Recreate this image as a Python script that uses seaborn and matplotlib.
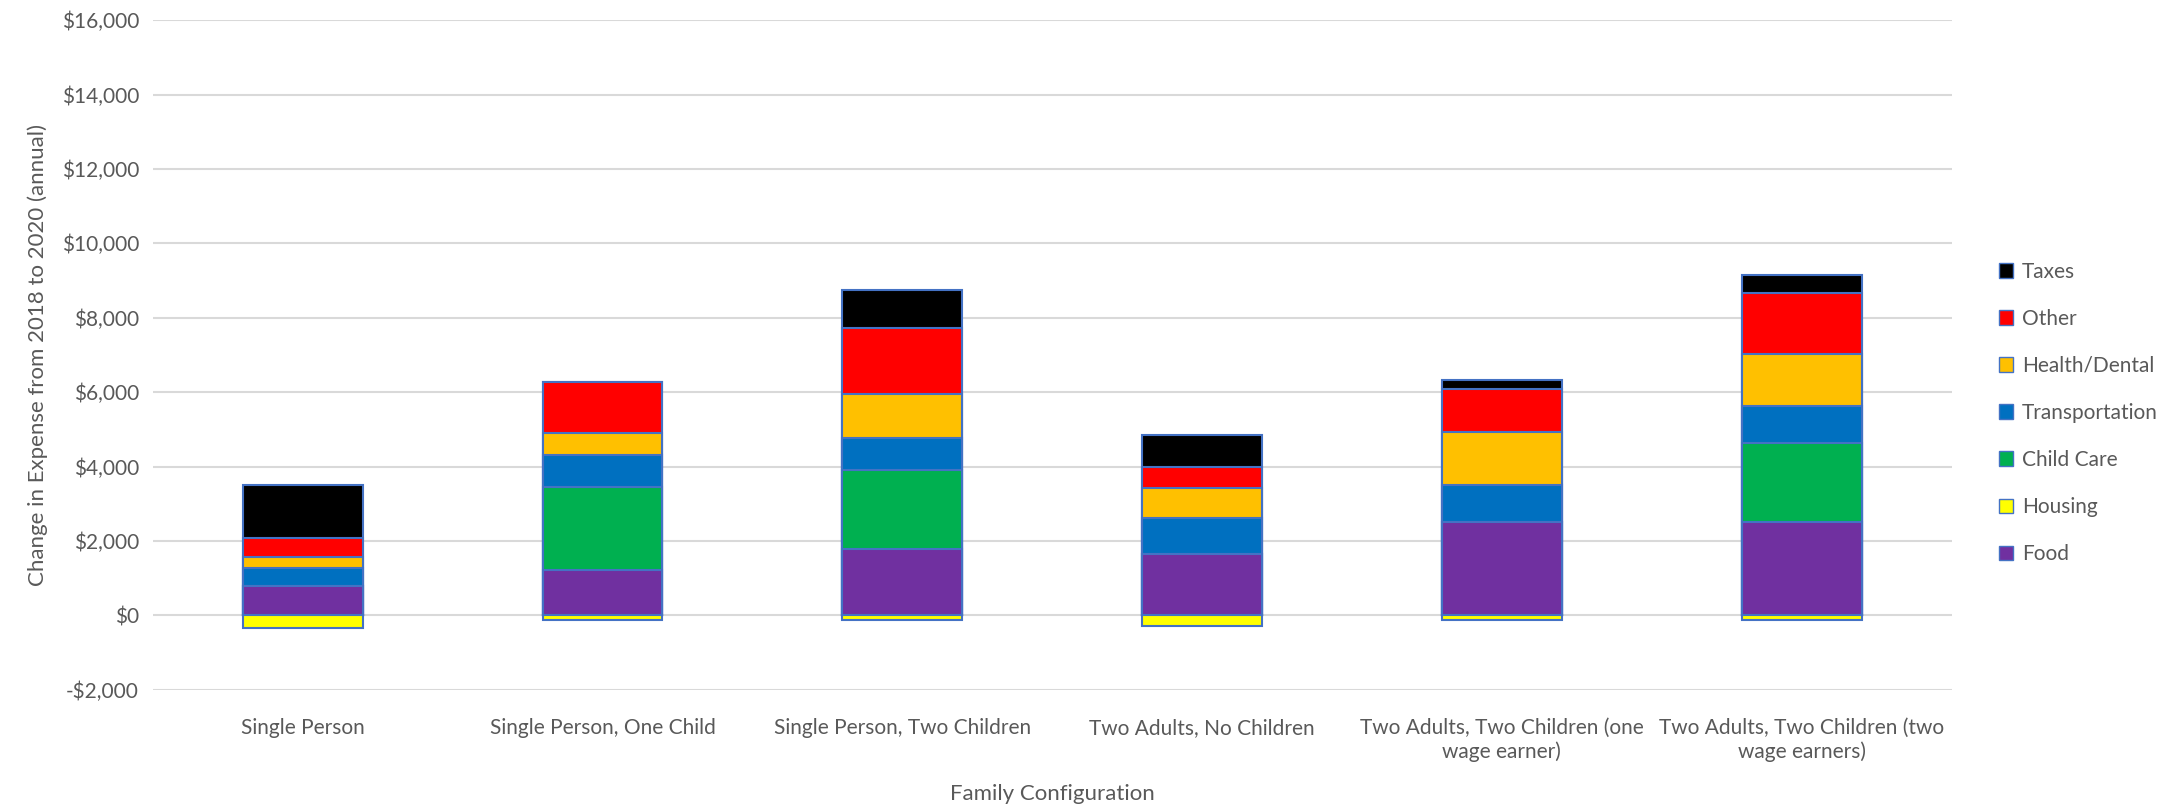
import numpy as np
import pandas as pd
import seaborn as sns
import matplotlib.pyplot as plt
from matplotlib.patches import Patch
from matplotlib.ticker import FuncFormatter

# Data (annual change, $)
families = ['Single Person', 'Single Person, One Child', 'Single Person, Two Children',
            'Two Adults, No Children', 'Two Adults, Two Children (one\nwage earner)',
            'Two Adults, Two Children (two\nwage earners)']
food = [790, 1210, 1780, 1650, 2520, 2500]
housing = [-330, -130, -130, -290, -130, -130]
child_care = [0, 2230, 2140, 0, 0, 2140]
transportation = [490, 860, 860, 960, 980, 1000]
health_dental = [290, 610, 1170, 820, 1420, 1390]
other = [510, 1370, 1780, 560, 1160, 1640]
taxes = [1430, 0, 1010, 860, 240, 490]

# stacking order bottom -> top (housing is negative, drawn below zero)
stack = [('Food', food, '#7030A0'),
         ('Child Care', child_care, '#00B050'),
         ('Transportation', transportation, '#0070C0'),
         ('Health/Dental', health_dental, '#FFC000'),
         ('Other', other, '#FF0000'),
         ('Taxes', taxes, '#000000')]
housing_color = '#FFFF00'
edge = '#4472C4'

sns.set_style('white')
plt.rcParams['font.family'] = ['Lato', 'DejaVu Sans']

fig = plt.figure(figsize=(21.83, 8.05), dpi=100)
ax = fig.add_axes([0.070, 0.143, 0.824, 0.832])

# cumulative tops, draw tallest first so lower segments overlay it
tops = np.cumsum([np.array(v) for _, v, _ in stack], axis=0)
for i in range(len(stack) - 1, -1, -1):
    name, _, col = stack[i]
    df = pd.DataFrame({'family': families, 'value': tops[i]})
    sns.barplot(data=df, x='family', y='value', color=col, width=0.4,
                edgecolor=edge, linewidth=1.5, saturation=1, ax=ax, zorder=3)

df_h = pd.DataFrame({'family': families, 'value': housing})
sns.barplot(data=df_h, x='family', y='value', color=housing_color, width=0.4,
            edgecolor=edge, linewidth=1.5, saturation=1, ax=ax, zorder=3)

ax.set_ylim(-2000, 16000)
ax.set_xlim(-0.5, 5.5)
ax.set_yticks(np.arange(-2000, 16001, 2000))
ax.yaxis.set_major_formatter(FuncFormatter(
    lambda v, p: ('-$' if v < 0 else '$') + f'{abs(int(v)):,}'))
ax.grid(axis='y', color='#D9D9D9', linewidth=1.5, zorder=0)
ax.set_axisbelow(True)
for s in ax.spines.values():
    s.set_visible(False)
ax.tick_params(axis='both', length=0, labelsize=15, labelcolor='#595959')
ax.tick_params(axis='x', pad=20)
ax.tick_params(axis='y', pad=10)

ax.set_xlabel('Family Configuration', fontsize=16, color='#595959', labelpad=16)
ax.set_ylabel('Change in Expense from 2018 to 2020 (annual)', fontsize=16,
              color='#595959', labelpad=10)

handles = [Patch(facecolor=c, edgecolor=edge, label=n) for n, _, c in stack[::-1]]
handles.insert(5, Patch(facecolor=housing_color, edgecolor=edge, label='Housing'))
leg = fig.legend(handles=handles, loc='center left', bbox_to_anchor=(0.907, 0.487),
                 frameon=False, fontsize=15, labelspacing=1.3, handlelength=0.7,
                 handleheight=0.7, handletextpad=0.4)
for t in leg.get_texts():
    t.set_color('#595959')

fig.savefig('out.png', dpi=100)
